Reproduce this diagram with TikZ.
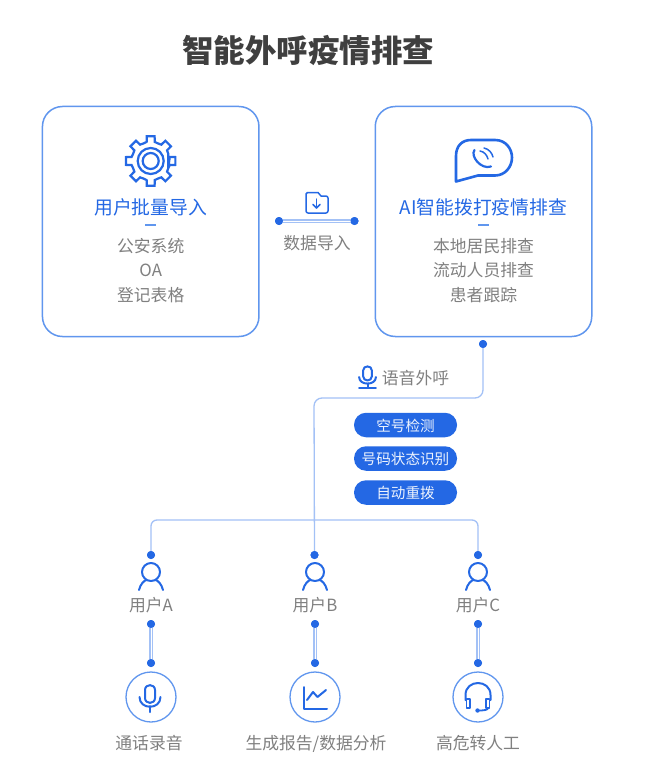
\documentclass[tikz,border=0pt]{standalone}
\usepackage{fontspec}
\setmainfont{Noto Sans CJK SC}
\definecolor{bl}{HTML}{2468E4}
\definecolor{boxln}{HTML}{6096EE}
\definecolor{lite}{HTML}{A3C1F6}
\definecolor{gr}{HTML}{808080}
\definecolor{ttl}{HTML}{3F3F3F}
\newcommand{\fs}[1]{\fontsize{#1}{#1}\selectfont}
\tikzset{
 x=1pt,y=-1pt,
 card/.style={draw=boxln,line width=1.5,rounded corners=20,minimum width=216.5,minimum height=230,inner sep=0,fill=white},
 txt/.style={text=gr,inner sep=0,font=\fs{16.8}},
 head/.style={text=bl,inner sep=0,font=\fs{18.8}},
 pill/.style={fill=bl,rounded corners=12,minimum width=103,minimum height=24.5,inner sep=0,text=white!92!bl,font=\fs{14.6}},
 dot/.style={circle,fill=bl,minimum size=8,inner sep=0},
 conn/.style={draw=lite,line width=1.3,rounded corners=8},
 bar/.style={draw=lite,line width=1.3,double=white,double distance=1},
 ico/.style={draw=bl,line width=2,line cap=round,line join=round},
 ring/.style={circle,draw=boxln,line width=1.3,minimum size=50,inner sep=0},
 dashmark/.style={fill=boxln,minimum width=11,minimum height=1.4,inner sep=0},
 micbody/.pic={
  \draw[ico] (-5,-11) -- (-5,-3) .. controls (-5,3.5) and (5,3.5) .. (5,-3) -- (5,-11) .. controls (5,-17.5) and (-5,-17.5) .. (-5,-11) -- cycle;
  \draw[ico] (-10.5,-4) .. controls (-10.5,9) and (10.5,9) .. (10.5,-4);
  \draw[ico] (0,5) -- (0,11);
 }
}
\begin{document}
\begin{tikzpicture}
\useasboundingbox (0,0) rectangle (658,773);
\fill[white] (0,0) rectangle (658,773);

\node[inner sep=0,text=ttl,font=\fs{31.5}\bfseries] (title) at (308,50.5) {智能外呼疫情排查};

% cards
\node[card] (cl) at (150.7,221.5) {};
\node[card] (cr) at (483.5,221.5) {};

% gear
\begin{scope}[shift={(150.7,161)}]
\draw[ico,line width=2.2,line join=miter] (22.5:19)
 \foreach \a in {0,45,...,315} {
   -- (\a-12:19.5) -- (\a-9:25) -- (\a+9:25) -- (\a+12:19.5) -- (\a+22.5:19) }
 -- cycle;
\draw[ico,line width=2.2] (0,0) circle[radius=13];
\draw[ico,line width=2.2] (0,0) circle[radius=8];
\end{scope}

\node[head] (hl) at (150.7,207.8) {用户批量导入};
\node[dashmark] (dl) at (150.7,225) {};
\node[txt] (l1) at (150.7,246) {公安系统};
\node[txt] (l2) at (150.7,270.5) {OA};
\node[txt] (l3) at (150.7,295) {登记表格};

% bubble
\draw[ico,line width=2.6] (456,181.5) -- (456,156) .. controls (456,146) and (462,140) .. (471,140)
 -- (495,140) .. controls (506,140) and (512,149) .. (512,157.5) .. controls (512,167) and (505,175.5) .. (495,175.5)
 -- (478,175.5) -- cycle;
\draw[ico,line width=2.2] (474.5,150) .. controls (470,156) and (481,170) .. (491,166.5);
\draw[ico,line width=1.5] (480,151) .. controls (484,151.5) and (487,155) .. (488,159);
\draw[ico,line width=1.5] (484,148) .. controls (489,149) and (492,153) .. (493,157);

\node[head] (hr) at (483.5,207.8) {AI智能拨打疫情排查};
\node[dashmark] (dr) at (483.5,225) {};
\node[txt] (r1) at (483.5,246) {本地居民排查};
\node[txt] (r2) at (483.5,270.5) {流动人员排查};
\node[txt] (r3) at (483.5,295) {患者跟踪};

% data import link
\node[dot] (da) at (279,221) {};
\node[dot] (db) at (354.5,221) {};
\draw[bar] (da.center) -- (db.center);
\node[dot] at (da) {};
\node[dot] at (db) {};
\node[txt] (dlab) at (317,243) {数据导入};
\draw[ico,line width=1.5] (306,194) .. controls (306,193) and (306.5,192.5) .. (307.5,192.5) -- (318,192.5) -- (321,196) -- (326,196) .. controls (327,196) and (328,197) .. (328,198) -- (328,211) .. controls (328,212) and (327,213) .. (326,213) -- (308,213) .. controls (307,213) and (306,212) .. (306,211) -- cycle;
\draw[ico,line width=1.5] (316.5,199) -- (316.5,208);
\draw[ico,line width=1.5] (313,204.5) -- (316.5,208) -- (320,204.5);

% voice
\node[dot] (vs) at (483,344) {};
\coordinate (vc) at (483,398);
\coordinate (vd) at (314,398);
\node[dot] (ub) at (314.5,555) {};
\node[dot] (ua) at (151,555) {};
\node[dot] (uc) at (478,555) {};
\coordinate (ha) at (151,520);
\coordinate (hc) at (478,520);
\draw[conn,rounded corners=8] (vs.center) -- (vc) -- (vd) -- (ub.center);
\draw[conn,rounded corners=6] (ua.center) -- (ha) -- (hc) -- (uc.center);
\node[dot] at (vs) {};
\node[dot] at (ua) {};
\node[dot] at (ub) {};
\node[dot] at (uc) {};

\begin{scope}[shift={(367.5,377)},scale=0.8]
\draw[ico,line width=2] (-5.5,-8) -- (-5.5,-1) .. controls (-5.5,6) and (5.5,6) .. (5.5,-1) -- (5.5,-8) .. controls (5.5,-15) and (-5.5,-15) .. (-5.5,-8) -- cycle;
\draw[ico,line width=2] (-10.5,0) .. controls (-10.5,11) and (10.5,11) .. (10.5,0);
\draw[ico,line width=2] (0,8) -- (0,13.5);
\draw[ico,line width=2] (-10.5,13.5) -- (10.5,13.5);
\end{scope}
\node[txt] (vlab) at (415.5,378) {语音外呼};

\node[pill] (p1) at (405.5,425) {};
\node[pill] (p2) at (405.5,458.5) {};
\node[pill] (p3) at (405.5,492.5) {};
\node[text=white!92!bl,inner sep=0,font=\fs{14.6}] at (405.5,425.8) {空号检测};
\node[text=white!92!bl,inner sep=0,font=\fs{14.6}] at (405.5,459.3) {号码状态识别};
\node[text=white!92!bl,inner sep=0,font=\fs{14.6}] at (405.5,493.3) {自动重拨};

% users
\foreach \n/\x/\t in {a/151/用户A,b/315/用户B,c/478/用户C}{
 \begin{scope}[shift={(\x,572)}]
 \draw[ico] (0,0) circle[radius=9];
 \draw[ico] (-12,18) .. controls (-10.5,12) and (-7,8.5) .. (-4.5,8);
 \draw[ico] (12,18) .. controls (10.5,12) and (7,8.5) .. (4.5,8);
 \end{scope}
 \node[txt] (t\n) at (\x,605.5) {\t};
 \node[dot] (s\n) at (\x,624) {};
 \node[dot] (e\n) at (\x,663) {};
 \draw[bar] (s\n.center) -- (e\n.center);
 \node[dot] at (s\n) {};
 \node[dot] at (e\n) {};
 \node[ring] (o\n) at (\x,697) {};
}

% mic in ring
\pic at (150,701) {micbody};
% chart in ring
\draw[ico] (303.5,687) -- (303.5,709) -- (327,709);
\draw[ico] (307,700) -- (313,692) -- (317.5,697) -- (326,690);
% headset in ring
\draw[ico] (465.5,700) -- (465.5,695) .. controls (465.5,679) and (490.5,679) .. (490.5,695) -- (490.5,700);
\draw[ico,line width=1.8] (466.5,699) rectangle (470,708);
\draw[ico,line width=1.8] (486,699) rectangle (489.5,708);
\draw[ico,line width=1.8] (488,708) .. controls (488,710) and (484,710.5) .. (478,710.5);
\fill[bl] (477.5,710.5) circle[radius=2.2];

\node[txt] (b1) at (149,743.5) {通话录音};
\node[txt] (b2) at (316,743.5) {生成报告/数据分析};
\node[txt] (b3) at (478,743.5) {高危转人工};
\end{tikzpicture}
\end{document}
